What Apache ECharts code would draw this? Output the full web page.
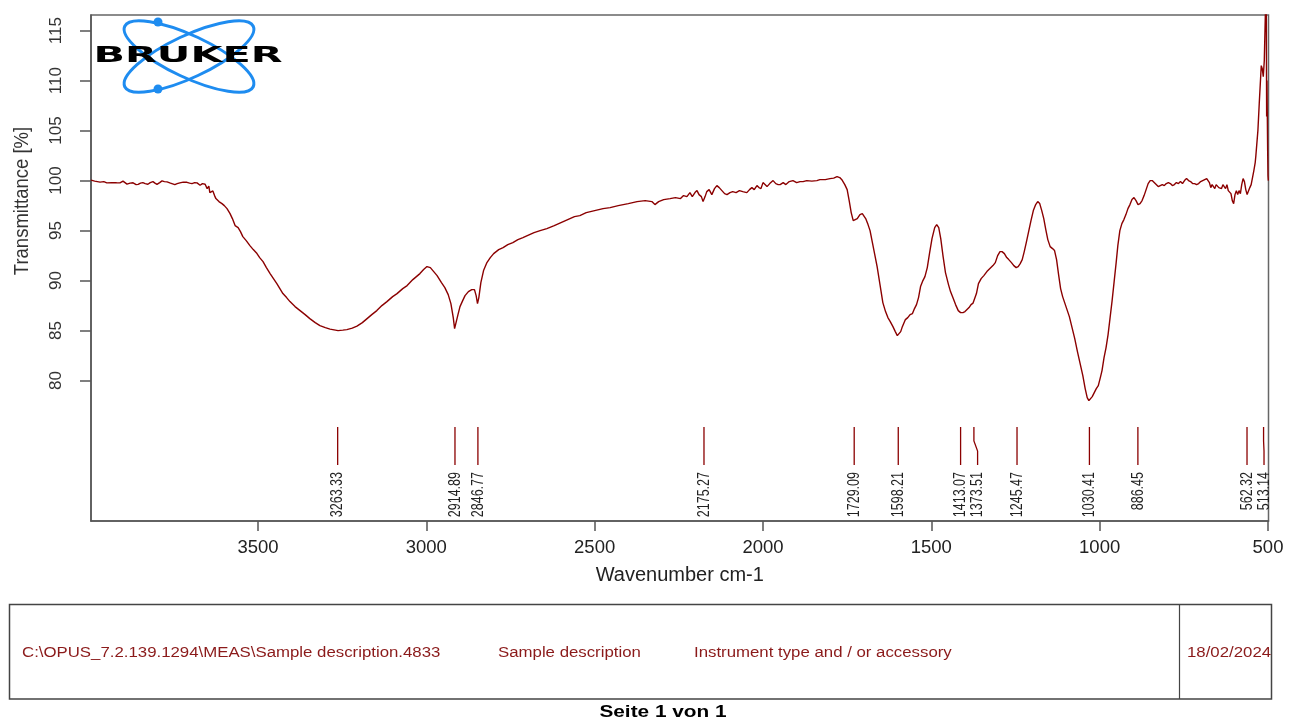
<!DOCTYPE html>
<html><head><meta charset="utf-8">
<script src="https://cdn.jsdelivr.net/npm/echarts@6/dist/echarts.min.js"></script>
<style>html,body{margin:0;padding:0;background:#fff}#c{width:1289px;height:719px}</style>
</head><body><div id="c"></div>
<script>
// ---- data ----
const wavenumbers = [3996,3985,3969,3958,3949,3935,3920,3910,3901,3889,3880,3871,3862,3856,3849,3842,3835,3827,3820,3812,3806,3800,3792,3785,3778,3770,3760,3747,3740,3732,3722,3711,3703,3696,3688,3681,3676,3672,3665,3657,3651,3646,3643,3638,3634,3629,3625,3616,3607,3600,3592,3583,3576,3568,3559,3552,3545,3535,3524,3514,3503,3495,3485,3475,3464,3454,3444,3435,3426,3415,3405,3390,3375,3360,3346,3330,3316,3300,3286,3262,3248,3236,3220,3206,3190,3176,3162,3147,3132,3117,3100,3087,3070,3057,3040,3019,3008,2998,2988,2978,2968,2955,2945,2935,2927,2920,2916,2912,2906,2900,2892,2885,2875,2865,2857,2852,2848,2844,2838,2830,2820,2810,2800,2785,2772,2758,2743,2728,2713,2700,2680,2662,2642,2620,2600,2580,2560,2544,2525,2500,2475,2454,2430,2400,2374,2350,2330,2321,2310,2295,2276,2260,2245,2236,2226,2217,2210,2202,2196,2190,2183,2178,2172,2167,2160,2152,2144,2137,2130,2122,2114,2107,2098,2090,2080,2070,2060,2048,2040,2033,2026,2018,2012,2006,2000,1994,1988,1980,1970,1962,1955,1949,1940,1932,1922,1911,1900,1890,1881,1870,1855,1840,1831,1815,1801,1790,1780,1772,1765,1757,1750,1744,1738,1732,1726,1720,1712,1705,1700,1695,1688,1682,1675,1668,1661,1652,1644,1636,1629,1622,1614,1607,1601,1596,1591,1587,1582,1577,1570,1563,1556,1550,1544,1538,1532,1525,1519,1512,1505,1498,1490,1484,1478,1472,1465,1458,1449,1443,1436,1428,1420,1413,1406,1400,1394,1388,1382,1376,1372,1366,1360,1352,1344,1335,1326,1317,1310,1303,1296,1290,1283,1276,1270,1262,1255,1248,1242,1236,1230,1224,1218,1211,1204,1197,1190,1184,1178,1172,1166,1160,1154,1147,1140,1134,1128,1122,1116,1110,1104,1098,1090,1082,1074,1066,1058,1050,1043,1037,1032,1027,1022,1016,1010,1004,998,993,987,981,975,969,963,957,951,946,940,934,928,922,916,910,904,898,892,886,880,874,868,862,856,850,844,838,832,826,820,814,808,802,796,790,784,778,772,766,760,754,748,742,736,730,724,718,712,706,700,694,688,682,678,674,670,666,662,658,654,650,646,642,638,634,630,626,622,618,614,610,606,602,598,594,590,586,582,578,574,570,566,562,558,554,550,546,542,538,536,530,526,520,517,514,511,508,506,505,504,503,502,501,500,499];
const transmittance = [100.05,99.95,99.85,99.9,99.77,99.8,99.78,99.77,99.95,99.65,99.75,99.78,99.6,99.62,99.75,99.8,99.7,99.63,99.8,99.9,99.75,99.63,99.8,99.97,99.9,99.87,99.75,99.6,99.7,99.77,99.85,99.83,99.75,99.7,99.8,99.77,99.6,99.53,99.7,99.63,99.2,99.45,98.8,98.9,98.97,98.5,98.2,97.9,97.7,97.5,97.2,96.7,96.2,95.5,95.3,94.9,94.4,94.0,93.5,93.1,92.7,92.3,91.9,91.3,90.7,90.2,89.7,89.2,88.7,88.3,87.9,87.4,87.0,86.6,86.2,85.8,85.5,85.3,85.15,85.0,85.05,85.1,85.25,85.45,85.8,86.2,86.6,87.0,87.5,87.9,88.4,88.7,89.2,89.5,90.1,90.7,91.1,91.4,91.3,90.9,90.5,89.8,89.3,88.6,87.7,86.3,85.2,85.3,86.6,87.4,88.0,88.5,88.9,89.1,89.1,88.5,87.7,88.3,89.8,91.0,91.8,92.3,92.7,93.1,93.3,93.6,93.8,94.1,94.3,94.5,94.8,95.0,95.2,95.5,95.8,96.1,96.4,96.5,96.8,97.0,97.2,97.3,97.5,97.7,97.9,98.0,97.9,97.6,97.9,98.1,98.2,98.3,98.2,98.5,98.4,98.8,98.4,98.8,99.0,98.6,98.4,97.9,98.4,98.9,99.1,98.6,99.2,99.5,99.3,99.0,98.7,98.6,98.8,98.9,98.8,99.0,98.9,98.8,99.1,99.3,99.1,99.5,99.3,99.2,99.8,99.6,99.4,99.7,100.0,99.7,99.6,99.6,99.8,99.6,99.9,100.0,99.8,99.9,99.9,100.0,99.95,100.0,100.1,100.1,100.2,100.25,100.4,100.3,100.05,99.6,99.1,98.0,96.8,96.0,96.1,96.2,96.6,96.7,96.6,96.2,95.6,95.0,93.8,92.6,91.4,89.5,87.8,86.9,86.3,85.9,85.4,84.9,84.5,84.5,84.9,85.3,85.7,86.1,86.3,86.6,86.7,87.2,87.6,88.3,89.4,90.0,90.4,91.3,92.8,94.2,95.3,95.6,95.3,94.2,92.4,90.8,89.6,88.9,88.3,87.6,87.0,86.8,86.8,86.9,87.1,87.3,87.6,87.75,87.7,88.7,89.7,90.2,90.5,90.9,91.2,91.5,91.8,92.5,92.9,92.9,92.7,92.3,92.1,91.8,91.5,91.3,91.4,91.7,92.1,92.9,93.8,94.9,96.0,97.0,97.6,97.9,97.7,97.0,96.2,95.1,94.1,93.4,93.2,93.0,92.1,90.6,89.2,88.4,87.8,87.2,86.4,85.3,84.2,82.9,81.7,80.5,79.2,78.3,78.0,78.1,78.4,78.8,79.2,79.5,80.3,81.0,82.3,83.3,84.6,86.3,88.0,89.9,91.8,93.5,95.0,95.7,96.1,96.6,97.2,97.6,98.1,98.3,98.0,97.6,97.7,98.0,98.5,99.1,99.7,100.0,100.0,99.8,99.6,99.4,99.5,99.6,99.5,99.7,99.8,99.7,99.5,99.6,99.8,99.7,99.9,99.7,100.0,100.2,100.0,99.9,99.7,99.7,99.6,99.7,99.9,100.0,100.1,100.2,100.2,99.8,99.3,99.6,99.5,99.2,99.6,99.7,99.3,99.5,99.2,99.6,99.5,99.2,99.6,99.0,99.2,98.7,98.0,97.7,98.6,99.0,98.6,99.0,98.7,99.6,100.2,99.9,99.1,98.6,98.6,99.3,99.6,100.3,101.0,101.8,102.5,105.0,107.7,111.5,111.2,110.4,112.0,116.4,118.0,117.0,106.4,110.0,106.4,103.0,100.5,100.0];
const peakPositions = [3263.33, 2914.89, 2846.77, 2175.27, 1729.09, 1598.21, 1413.07, 1373.51, 1245.47, 1030.41, 886.45, 562.32, 513.14];
const xTickValues = [500, 1000, 1500, 2000, 2500, 3000, 3500];
const yTickValues = [80, 85, 90, 95, 100, 105, 110, 115];
const footerTexts = ['C:\\OPUS_7.2.139.1294\\MEAS\\Sample description.4833', 'Sample description', 'Instrument type and / or accessory', '18/02/2024'];

// ---- chart ----
const chart = echarts.init(document.getElementById('c'), null, {renderer: 'canvas'});
const FONT = '"Liberation Sans", Arial, sans-serif';
const RED = '#8B0000';
const spectrum = wavenumbers.map((w, i) => [w, transmittance[i]]);

function renderPeak(params, api) {
  const cs = params.coordSys;
  const bottom = cs.y + cs.height;
  const xs = peakPositions.map(p => api.coord([p, 70])[0]);
  const order = xs.map((x, i) => i).sort((a, b) => xs[a] - xs[b]);
  const lx = new Array(xs.length);
  let prev = -Infinity;
  order.forEach(i => { lx[i] = Math.max(xs[i], prev + 17); prev = lx[i]; });
  const i = params.dataIndex;
  const x = xs[i], l = lx[i];
  const yTop = bottom - 94, yK1 = bottom - 80, yK2 = bottom - 70, yBot = bottom - 56, yLab = bottom - 49;
  return {
    type: 'group',
    children: [
      {type: 'polyline', shape: {points: [[x, yTop], [x, yK1], [l, yK2], [l, yBot]]},
       style: {stroke: RED, lineWidth: 1.3, fill: null}},
      {type: 'text', x: l, y: yLab, rotation: Math.PI / 2, scaleY: 1.35,
       style: {text: api.value(0).toFixed(2), align: 'right', verticalAlign: 'middle',
               textAlign: 'right', textVerticalAlign: 'middle',
               font: '12.5px ' + FONT, fill: '#222'}}
    ]
  };
}

const footerX = [22, 498, 694, 1187];

const option = {
  animation: false,
  backgroundColor: '#fff',
  grid: {left: 91, right: 20.5, top: 15, bottom: 198, show: true, borderColor: '#666', borderWidth: 1.5, backgroundColor: 'transparent'},
  xAxis: {
    type: 'value', inverse: true, min: 498.5, max: 3996,
    axisLine: {show: true, lineStyle: {color: '#555', width: 1.5}},
    axisTick: {show: true, customValues: xTickValues, length: 10, lineStyle: {color: '#555', width: 1.5}},
    axisLabel: {customValues: xTickValues, formatter: v => String(v), fontSize: 18.5, fontFamily: FONT, color: '#222', margin: 17},
    splitLine: {show: false},
    name: 'Wavenumber cm-1', nameLocation: 'middle', nameGap: 44,
    nameTextStyle: {fontSize: 20, fontFamily: FONT, color: '#222'}
  },
  yAxis: {
    type: 'value', min: 65.96, max: 116.56,
    axisLine: {show: true, lineStyle: {color: '#555', width: 1.5}},
    axisTick: {show: true, customValues: yTickValues, length: 11, lineStyle: {color: '#555', width: 1.5}},
    axisLabel: {customValues: yTickValues, formatter: v => String(v), rotate: 90, fontSize: 17, fontFamily: FONT, color: '#333', margin: 26},
    splitLine: {show: false}
  },
  series: [
    {type: 'line', data: spectrum, showSymbol: false, symbol: 'none', clip: true,
     lineStyle: {color: RED, width: 1.4}, z: 3},
    {type: 'custom', data: peakPositions.map(p => [p, 70]), encode: {x: 0, y: 1},
     renderItem: renderPeak, clip: false, silent: true, z: 4}
  ],
  graphic: [
    // Bruker logo
    {type: 'ellipse', x: 189, y: 56.5, rotation: -0.44, shape: {cx: 0, cy: 0, rx: 71, ry: 21},
     style: {fill: null, stroke: '#1e8cf0', lineWidth: 3}, z: 10},
    {type: 'ellipse', x: 189, y: 56.5, rotation: 0.44, shape: {cx: 0, cy: 0, rx: 71, ry: 21},
     style: {fill: null, stroke: '#1e8cf0', lineWidth: 3}, z: 10},
    {type: 'circle', shape: {cx: 158, cy: 22, r: 4.5}, style: {fill: '#1e8cf0'}, z: 10},
    {type: 'circle', shape: {cx: 158, cy: 89, r: 4.5}, style: {fill: '#1e8cf0'}, z: 10},
    {type: 'text', x: 188, y: 56, scaleX: 1.88, z: 11,
     style: {text: 'BRUKER', font: '900 22px "DejaVu Sans"', fill: '#000', align: 'center', verticalAlign: 'middle', textAlign: 'center', textVerticalAlign: 'middle'}},
    // y axis title
    {type: 'text', x: 22, y: 201, rotation: Math.PI / 2, scaleY: 1.13, z: 10,
     style: {text: 'Transmittance [%]', font: '18.5px ' + FONT, fill: '#333', align: 'center', verticalAlign: 'middle', textAlign: 'center', textVerticalAlign: 'middle'}},
    // footer box
    {type: 'rect', shape: {x: 9.5, y: 604.5, width: 1262, height: 94.5}, style: {fill: null, stroke: '#444', lineWidth: 1.5}, z: 10},
    {type: 'line', shape: {x1: 1179.5, y1: 604.5, x2: 1179.5, y2: 699}, style: {stroke: '#444', lineWidth: 1.2}, z: 10},
    ...footerTexts.map((t, i) => ({type: 'text', x: footerX[i], y: 653, scaleX: 1.2, z: 10,
      style: {text: t, font: '14px ' + FONT, fill: '#8B1A1A', align: 'left', verticalAlign: 'middle', textAlign: 'left', textVerticalAlign: 'middle'}})),
    {type: 'text', x: 663, y: 713, scaleX: 1.3, z: 10,
     style: {text: 'Seite 1 von 1', font: 'bold 16px ' + FONT, fill: '#000', align: 'center', verticalAlign: 'middle', textAlign: 'center', textVerticalAlign: 'middle'}}
  ]
};
chart.setOption(option);
</script>
</body></html>
